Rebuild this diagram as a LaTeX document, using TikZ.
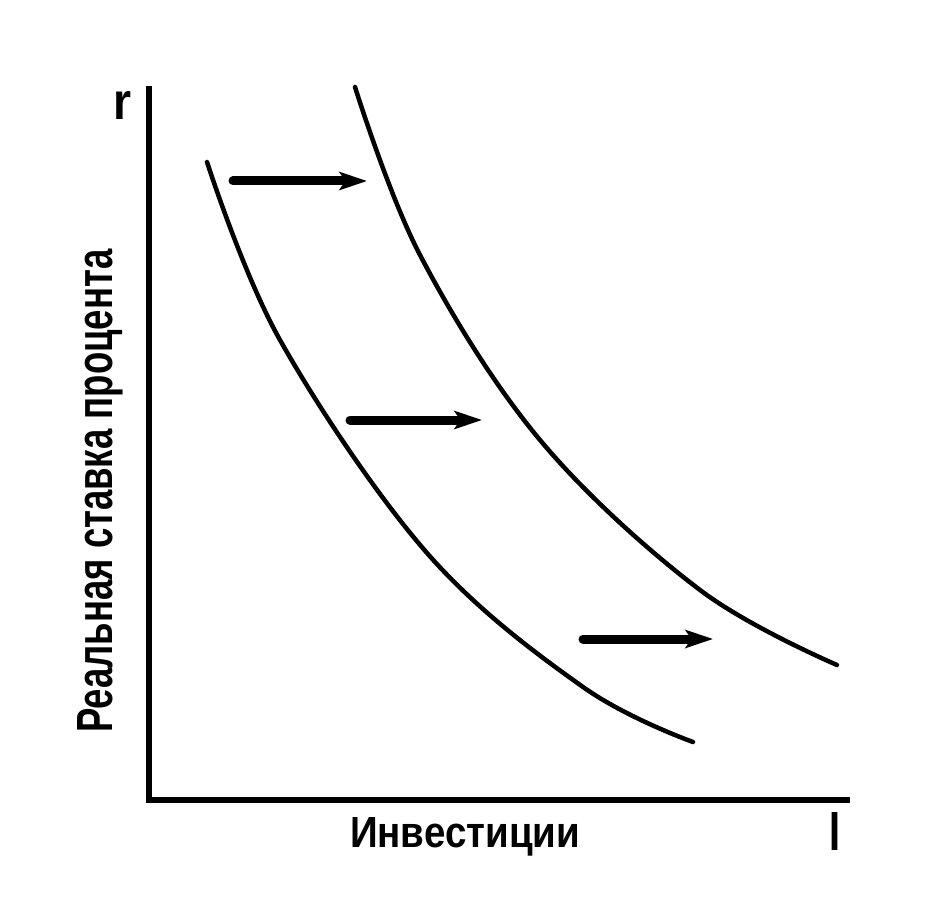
\documentclass[tikz,border=0pt]{standalone}
\usepackage{fontspec}
\setmainfont{Liberation Sans}
\usepackage{graphicx}
\usepackage{tikz}
\usetikzlibrary{arrows.meta, positioning, calc}

\begin{document}
\begin{tikzpicture}[%
  x=0.02cm, y=-0.02cm,
  every node/.style={align=center, inner sep=0pt, font=\bfseries},
  axis/.style={line width=0.12cm},
  curve/.style={line width=0.09cm, line cap=round},
  shiftarr/.style={-{Stealth[length=0.55cm, width=0.36cm, inset=0.12cm]}, line width=0.18cm, line cap=round}
]
\useasboundingbox (0,0) rectangle (932,898);

% 1. Axes
\coordinate (orig) at (149,800);
\coordinate (ytop) at (149,86);
\coordinate (xend) at (850,800);
\draw[axis] (ytop) -- (orig) -- (xend);

% 2. Axis labels
\node (rlab) at (122,106) {\resizebox{0.36cm}{0.56cm}{r}};
\node (ilab) at (835,831) {\resizebox{0.22cm}{0.76cm}{I}};
\node[anchor=base] (xlab) at (465,847) {\resizebox{4.6cm}{0.6cm}{Инвестиции}};
\node[rotate=90, anchor=base] (ylab) at (112,491) {\resizebox{9.66cm}{0.7cm}{Реальная ставка процента}};

% 3. Investment demand curves
\draw[curve] plot[smooth, tension=0.6] coordinates {(207,162) (280,340) (427,553) (583,687) (693,742)};
\draw[curve] plot[smooth, tension=0.6] coordinates {(355,87) (420,255) (540,440) (700,590) (837,665)};

% 4. Shift arrows
\coordinate (a1s) at (233,181);
\coordinate (a1e) at (367,181);
\coordinate (a2s) at (350,420);
\coordinate (a2e) at (482,420);
\coordinate (a3s) at (583,639);
\coordinate (a3e) at (713,639);
\draw[shiftarr] (a1s) -- (a1e);
\draw[shiftarr] (a2s) -- (a2e);
\draw[shiftarr] (a3s) -- (a3e);

\end{tikzpicture}
\end{document}
